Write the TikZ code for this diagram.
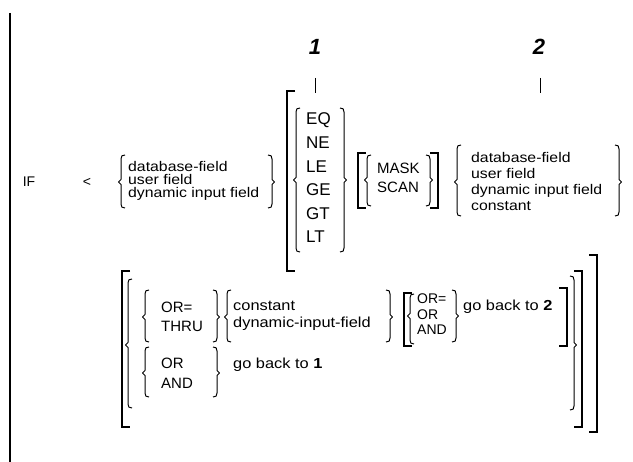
\documentclass[tikz,border=0pt]{standalone}
\usepackage{fontspec}
\newfontfamily\lf{Liberation Sans}[FakeStretch=1.13]
\newfontfamily\uf{Liberation Sans}
\tikzset{
  brc/.style={line width=1pt, line join=round},
  sq/.style={line width=1.3pt},
  txt/.style={anchor=west, inner sep=0pt, align=left},
  tick/.style={line width=1pt},
}
% left curly brace: x, top, bottom, point y
\newcommand\LBr[4]{%
  \draw[brc] ({#1+4},{#2}) .. controls ({#1+1},{#2}) and ({#1},{#2+1}) .. ({#1},{#2+4})
    -- ({#1},{#4-2.5}) -- ({#1-2.5},{#4}) -- ({#1},{#4+2.5}) -- ({#1},{#3-4})
    .. controls ({#1},{#3-1}) and ({#1+1},{#3}) .. ({#1+4},{#3});}
% right curly brace
\newcommand\RBr[4]{%
  \draw[brc] ({#1-4},{#2}) .. controls ({#1-1},{#2}) and ({#1},{#2+1}) .. ({#1},{#2+4})
    -- ({#1},{#4-2.5}) -- ({#1+2.5},{#4}) -- ({#1},{#4+2.5}) -- ({#1},{#3-4})
    .. controls ({#1},{#3-1}) and ({#1-1},{#3}) .. ({#1-4},{#3});}
% square brackets: x, top, bottom
\newcommand\LSq[3]{\draw[sq] ({#1+8},{#2}) -- ({#1},{#2}) -- ({#1},{#3}) -- ({#1+8},{#3});}
\newcommand\RSq[3]{\draw[sq] ({#1-8},{#2}) -- ({#1},{#2}) -- ({#1},{#3}) -- ({#1-8},{#3});}
\begin{document}
\begin{tikzpicture}[x=1pt,y=-1pt]
\fill[white] (0,0) rectangle (633,462);
\useasboundingbox (0,0) rectangle (633,462);

% left rule
\draw[line width=1.5pt] (10,13) -- (10,462);

% numbers and ticks
\node[inner sep=0pt, font={\uf\fontsize{22}{22}\selectfont\bfseries\itshape}] (n1) at (315,47) {1};
\node[inner sep=0pt, font={\uf\fontsize{22}{22}\selectfont\bfseries\itshape}] (n2) at (539,47) {2};
\draw[tick] (315,78) -- (315,93);
\draw[tick] (540,78) -- (540,93);

% first row
\node[inner sep=0pt, font={\uf\fontsize{14}{14}\selectfont}] (if) at (29,182) {IF};
\node[inner sep=0pt, font={\uf\fontsize{14}{14}\selectfont}] (lt) at (87,182) {<};

\LBr{121}{155}{208}{182}
\node[txt, font={\lf\fontsize{14}{13}\selectfont}] (g1) at (128,180.5) {database-field\\user field\\dynamic input field};
\RBr{272}{155}{208}{182}

\LSq{287}{91}{271}
\LBr{296}{108}{252}{180}
\node[txt, font={\uf\fontsize{17}{23.6}\selectfont}] (ops) at (306,178) {EQ\\NE\\LE\\GE\\GT\\LT};
\RBr{344}{108}{252}{180}

\LSq{358}{153}{208}
\LBr{367}{155}{206}{180}
\node[txt, font={\uf\fontsize{15}{19}\selectfont}] (mask) at (377,177.5) {MASK\\SCAN};
\RBr{430}{155}{206}{180}
\RSq{438}{153}{208}

\LBr{457}{145}{216}{182}
\node[txt, font={\lf\fontsize{14}{16.3}\selectfont}] (g2) at (471,181.5) {database-field\\user field\\dynamic input field\\constant};
\RBr{619}{145}{216}{182}

% second part
\LSq{122}{271}{427}
\LBr{128}{279}{408}{345}

\LBr{145}{290}{342}{317}
\node[txt, font={\uf\fontsize{15}{19}\selectfont}] (or1) at (161,316.5) {OR=\\THRU};
\RBr{217}{290}{342}{317}

\LBr{227}{290}{342}{317}
\node[txt, font={\lf\fontsize{14.5}{17}\selectfont}] (cst) at (233,316) {constant\\dynamic-input-field};
\RBr{390}{290}{342}{317}

\LSq{404}{293}{346}
\LBr{410}{294}{344}{316}
\node[txt, font={\uf\fontsize{14}{15.5}\selectfont}] (or2) at (417,314.5) {OR=\\OR\\AND};
\RBr{456}{290}{342}{316}
\node[txt, font={\lf\fontsize{14.5}{14}\selectfont}] (gb2) at (463,307) {go back to \textbf{2}};
\RSq{567}{288}{346}

\LBr{145}{347}{397}{373}
\node[txt, font={\uf\fontsize{15}{20}\selectfont}] (or3) at (161,373) {OR\\AND};
\RBr{217}{347}{397}{373}
\node[txt, font={\lf\fontsize{14.5}{14}\selectfont}] (gb1) at (233,365) {go back to \textbf{1}};

\RBr{574}{276}{410}{345}
\RSq{582}{271}{427}
\RSq{597}{255}{432}
\end{tikzpicture}
\end{document}
